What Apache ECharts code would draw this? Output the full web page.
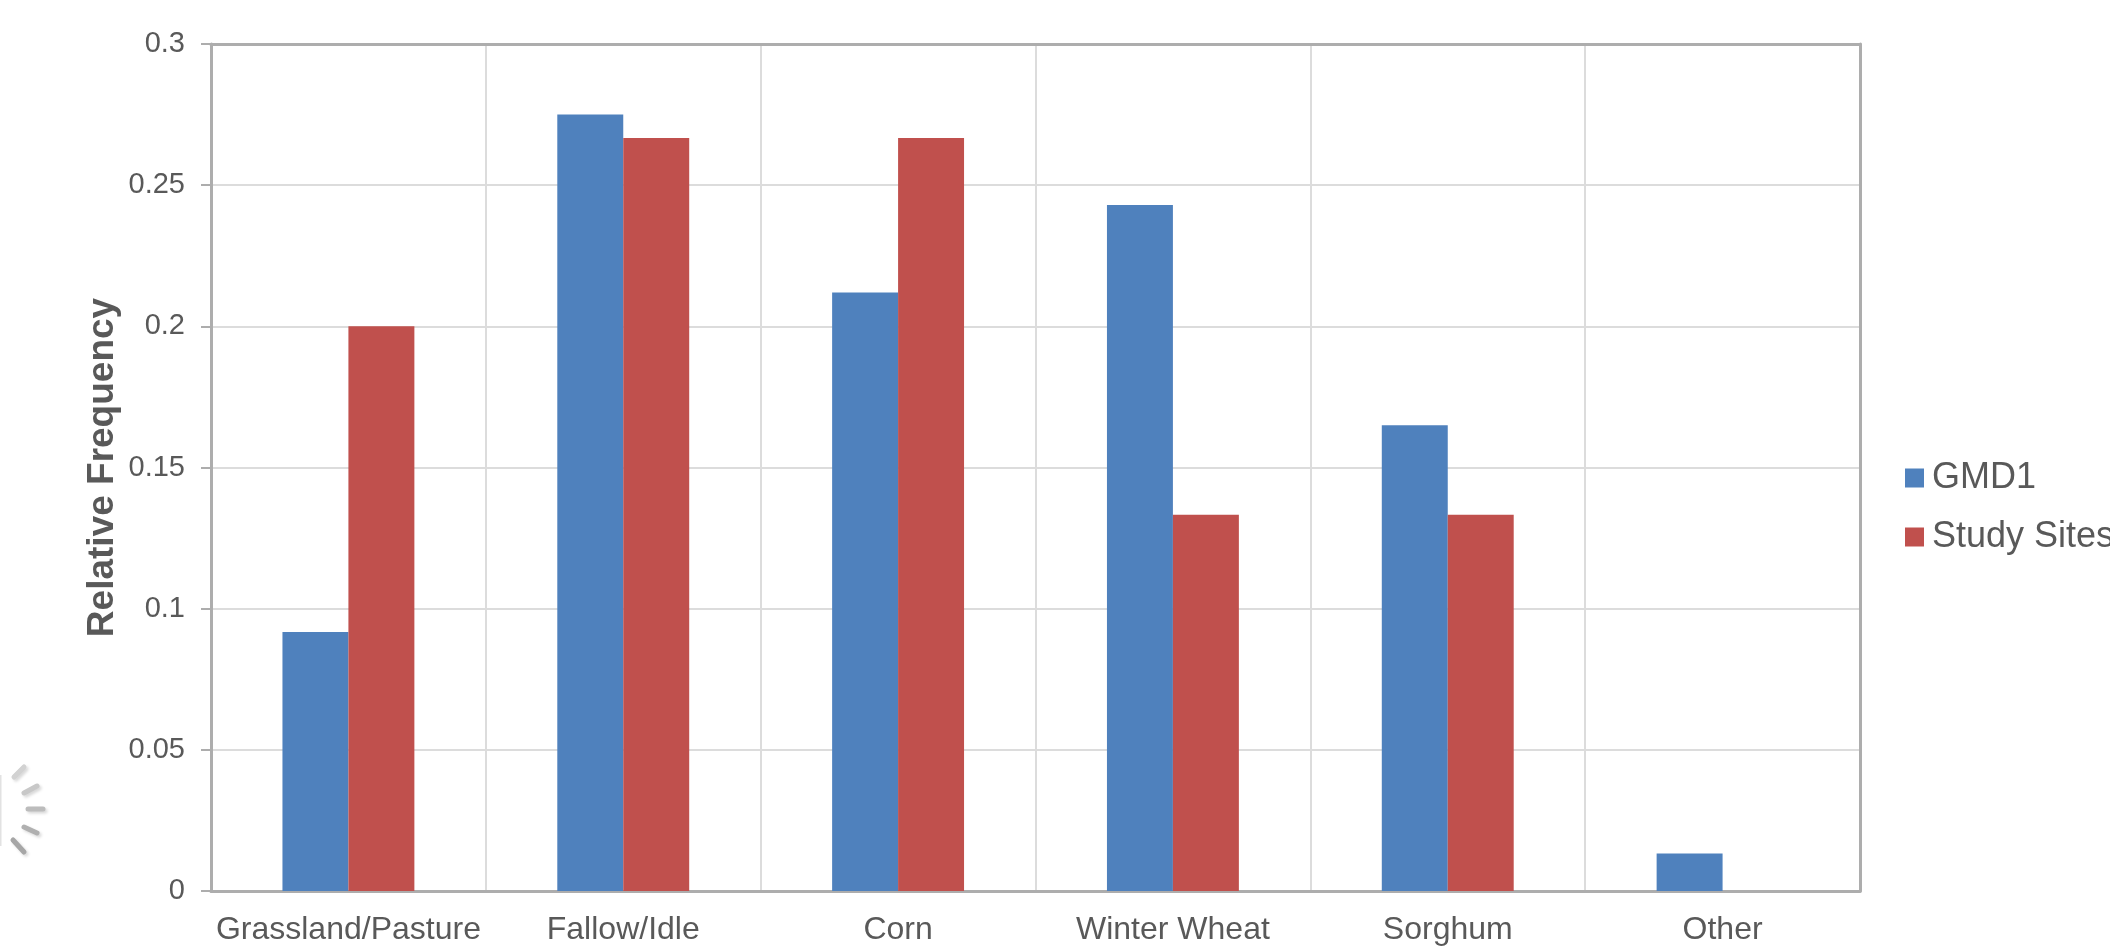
<!DOCTYPE html>
<html>
<head>
<meta charset="utf-8">
<style>
html, body { margin: 0; padding: 0; background: #fff; }
#main { width: 2110px; height: 950px; }
</style>
<script src="https://cdn.jsdelivr.net/npm/echarts@6/dist/echarts.min.js"></script>
</head>
<body>
<div id="main"></div>
<script>
var categories = ['Grassland/Pasture', 'Fallow/Idle', 'Corn', 'Winter Wheat', 'Sorghum', 'Other'];
var gmd1 = [0.0917, 0.275, 0.212, 0.243, 0.165, 0.0133];
var studySites = [0.2, 0.2667, 0.2667, 0.1333, 0.1333, 0];

var textColor = '#595959';
var frameColor = '#adadad';
var gridColor = '#dcdcdc';
var fontName = '"Liberation Sans", Arial, sans-serif';
var chartDom = document.getElementById('main');
var myChart = echarts.init(chartDom);

// the little speaker icon left over in the corner of the slide
var iconDashes = [
    [14, 777, 24, 767, '#d2d2d2'],
    [24, 793, 37, 786, '#c8c8c8'],
    [28, 809, 43, 809, '#bcbcbc'],
    [24, 827, 37, 833, '#b0b0b0'],
    [13, 840, 24, 852, '#a6a6a6']
];
var iconGraphics = iconDashes.map(function (d) {
    return {
        type: 'line',
        shape: { x1: d[0], y1: d[1], x2: d[2], y2: d[3] },
        style: { stroke: d[4], lineWidth: 5, lineCap: 'round', shadowBlur: 3, shadowOffsetX: 2, shadowOffsetY: 2, shadowColor: '#d8d8d8' }
    };
});
iconGraphics.push({
    type: 'line',
    shape: { x1: 0, y1: 775, x2: 0, y2: 846 },
    style: { stroke: '#e2e2e2', lineWidth: 3 }
});

var option = {
    animation: false,
    textStyle: { fontFamily: fontName },
    grid: { left: 211, right: 250, top: 44, bottom: 59, containLabel: false },
    legend: {
        left: 1900,
        top: 455,
        orient: 'vertical',
        icon: 'rect',
        itemWidth: 19,
        itemHeight: 19,
        itemGap: 23,
        textStyle: { color: textColor, fontSize: 36, fontFamily: fontName, padding: [3, 0, 0, 3] },
        data: ['GMD1', 'Study Sites']
    },
    xAxis: [{
            type: 'category',
            data: categories,
            axisLine: { lineStyle: { color: frameColor, width: 3 } },
            axisTick: { show: false },
            axisLabel: { color: textColor, fontSize: 32, margin: 23, interval: 0 },
            splitLine: { show: true, lineStyle: { color: gridColor, width: 2 } }
        },
        {
            // top edge of the frame
            type: 'category',
            position: 'top',
            data: categories,
            axisLine: { onZero: false, lineStyle: { color: frameColor, width: 3 } },
            axisTick: { show: false },
            axisLabel: { show: false },
            splitLine: { show: false }
        }
    ],
    yAxis: [{
            type: 'value',
            min: 0,
            max: 0.3,
            interval: 0.05,
            name: 'Relative Frequency',
            nameLocation: 'middle',
            nameMoveOverlap: false,
            nameGap: 90,
            nameTextStyle: { color: textColor, fontSize: 37, fontWeight: 'bold', fontFamily: fontName },
            axisLine: { show: true, lineStyle: { color: frameColor, width: 3 } },
            axisTick: { show: true, length: 10, lineStyle: { color: frameColor, width: 2 } },
            axisLabel: { color: textColor, fontSize: 29, margin: 26 },
            splitLine: { show: true, lineStyle: { color: gridColor, width: 2 } }
        },
        {
            // right edge of the frame
            type: 'value',
            position: 'right',
            min: 0,
            max: 0.3,
            interval: 0.05,
            axisLine: { show: true, onZero: false, lineStyle: { color: frameColor, width: 3 } },
            axisTick: { show: false },
            axisLabel: { show: false },
            splitLine: { show: false }
        }
    ],
    graphic: iconGraphics,
    series: [{
            name: 'GMD1',
            type: 'bar',
            barGap: 0,
            barCategoryGap: '52%',
            itemStyle: { color: '#4f81bd' },
            data: gmd1
        },
        {
            name: 'Study Sites',
            type: 'bar',
            itemStyle: { color: '#c0504d' },
            data: studySites
        }
    ]
};
myChart.setOption(option);
</script>
</body>
</html>
